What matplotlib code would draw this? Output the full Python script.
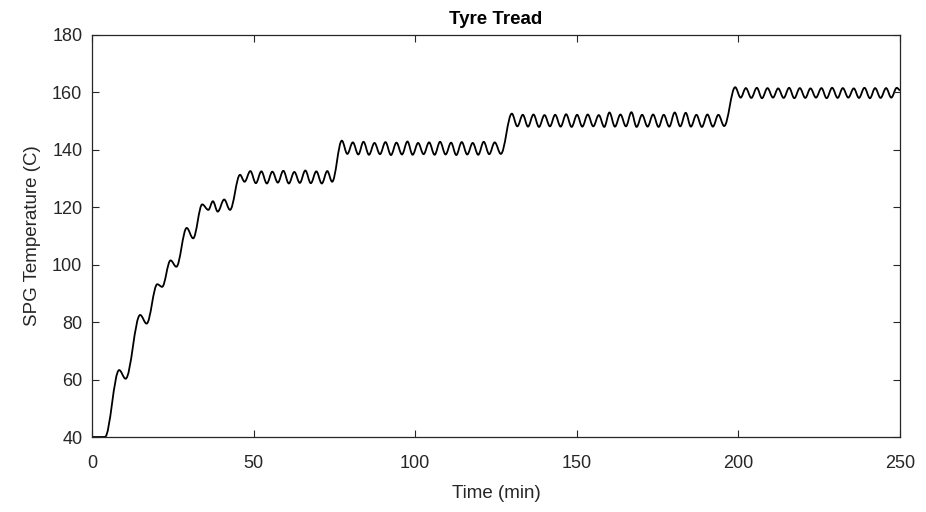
import numpy as np
import matplotlib
matplotlib.use("Agg")
import matplotlib.pyplot as plt
from matplotlib.path import Path
from matplotlib.patches import PathPatch

plt.rcParams['font.family'] = ['Liberation Sans', 'DejaVu Sans']

# turning points (peaks / troughs), time in min, temp in C
warm_t = [0.0, 4.0, 8.4, 10.4, 14.9, 16.9, 20.2, 21.7, 24.3, 26.1, 29.3, 31.3,
          34.1, 36.0, 37.4, 38.9, 40.9, 42.7]
warm_temp = [40.0, 40.0, 63.3, 60.3, 82.5, 79.5, 93.2, 92.3, 101.5, 99.3, 112.8, 109.2,
             121.0, 119.1, 122.1, 118.5, 122.7, 119.1]

step1_t = [45.8, 47.2, 49.0, 50.7, 52.4, 54.1, 55.8, 57.5, 59.2, 60.9, 62.6, 64.3,
           66.0, 67.7, 69.4, 71.1, 72.8, 74.3]
step1_temp = [131.3, 128.9, 132.6, 128.4, 132.5, 128.3, 132.4, 128.6, 132.7, 128.3, 132.3, 128.5,
              132.8, 128.4, 132.5, 128.3, 132.6, 128.9]

step2_t = [77.3, 79.0, 80.7, 82.4, 84.0, 85.7, 87.4, 89.1, 90.8, 92.5, 94.2, 95.9,
           97.6, 99.2, 100.9, 102.6, 104.3, 106.0, 107.7, 109.4, 111.1, 112.7, 114.4, 116.1,
           117.8, 119.5, 121.2, 122.9, 124.6, 126.5]
step2_temp = [143.2, 138.6, 142.6, 138.4, 142.8, 138.3, 142.4, 138.5, 142.7, 138.2, 142.5, 138.4,
              142.9, 138.3, 142.4, 138.5, 142.6, 138.3, 142.8, 138.4, 142.5, 138.2, 142.7, 138.4,
              142.4, 138.3, 142.8, 138.5, 142.6, 138.6]

step3_t = [129.9, 131.6, 133.3, 134.9, 136.6, 138.3, 140.0, 141.7, 143.3, 145.0, 146.7, 148.4,
           150.1, 151.7, 153.4, 155.1, 156.8, 158.5, 160.1, 161.8, 163.5, 165.2, 166.9, 168.5,
           170.2, 171.9, 173.6, 175.3, 176.9, 178.6, 180.3, 182.0, 183.7, 185.3, 187.0, 188.7,
           190.4, 192.1, 193.8, 195.6]
step3_temp = [152.6, 148.2, 152.2, 148.1, 152.3, 148.0, 152.1, 148.2, 152.2, 148.1, 152.4, 148.0,
              152.2, 148.1, 152.3, 148.2, 152.1, 148.0, 153.0, 148.1, 152.3, 148.2, 153.1, 148.0,
              152.2, 148.1, 152.3, 148.0, 152.2, 148.1, 153.0, 148.2, 152.9, 148.1, 152.2, 148.0,
              152.3, 148.1, 152.2, 148.3]

step4_t = [199.0, 200.7, 202.3, 204.0, 205.7, 207.3, 209.0, 210.7, 212.3, 214.0, 215.7, 217.3,
           219.0, 220.7, 222.3, 224.0, 225.7, 227.3, 229.0, 230.7, 232.3, 234.0, 235.7, 237.3,
           239.0, 240.7, 242.3, 244.0, 245.7, 247.3, 249.0, 250.0]
step4_temp = [161.8, 158.2, 161.5, 158.1, 161.6, 158.0, 161.5, 158.2, 161.4, 158.1, 161.6, 158.0,
              161.5, 158.1, 161.4, 158.2, 161.5, 158.0, 161.6, 158.1, 161.5, 158.2, 161.4, 158.1,
              161.6, 158.0, 161.5, 158.1, 161.5, 158.2, 161.6, 160.8]

time_min = np.concatenate([warm_t, step1_t, step2_t, step3_t, step4_t])
temp_c = np.concatenate([warm_temp, step1_temp, step2_temp, step3_temp, step4_temp])


def wave_path(t, y, k=0.36):
    # smooth curve through turning points, flat tangent at each one
    verts = [(t[0], y[0])]
    codes = [Path.MOVETO]
    for i in range(1, len(t)):
        dt = t[i] - t[i - 1]
        verts += [(t[i - 1] + k * dt, y[i - 1]), (t[i] - k * dt, y[i]), (t[i], y[i])]
        codes += [Path.CURVE4] * 3
    return Path(verts, codes)


fig = plt.figure(figsize=(9.26, 5.12), dpi=100)
ax = fig.add_axes([92 / 926, 1 - 437 / 512, 808 / 926, 402 / 512])

ax.add_patch(PathPatch(wave_path(time_min, temp_c), fill=False, edgecolor='black', lw=1.3))

ax.set_xlim(0, 250)
ax.set_ylim(40, 180)
ax.set_xticks(np.arange(0, 251, 50))
ax.set_yticks(np.arange(40, 181, 20))

axcol = '#262626'
for s in ax.spines.values():
    s.set_color(axcol)
    s.set_linewidth(0.9)
ax.tick_params(direction='in', length=5, width=0.8, colors=axcol, labelsize=13,
               top=True, right=True)
ax.tick_params(axis='x', pad=13)
ax.tick_params(axis='y', pad=7)

ax.set_xlabel('Time (min)', fontsize=13.5, color=axcol, labelpad=9)
ax.set_ylabel('SPG Temperature (C)', fontsize=13.5, color=axcol, labelpad=8)
ax.set_title('Tyre Tread', fontsize=13.5, fontweight='bold', color='black', pad=8)

fig.savefig('out.png', dpi=100)
